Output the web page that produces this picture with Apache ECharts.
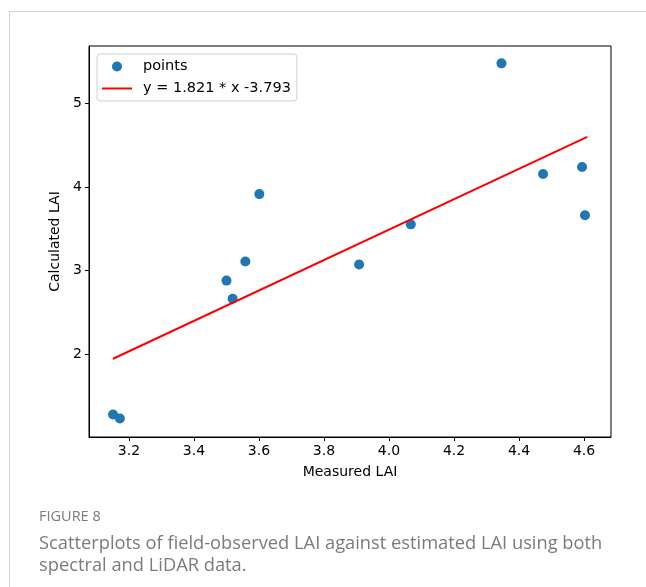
<!DOCTYPE html>
<html>
<head>
<meta charset="utf-8">
<script src="https://cdn.jsdelivr.net/npm/echarts@6/dist/echarts.min.js"></script>
<style>
  body { margin: 0; background: #fff; }
  #frame {
    position: absolute; left: 9px; top: 11px; width: 700px; height: 600px;
    border-left: 1px solid #d3d3d3; border-top: 1px solid #d3d3d3;
  }
  #chart { position: absolute; left: 0; top: 0; width: 646px; height: 587px; }
  .cap { position: absolute; left: 39px; color: #7b7b7b; font-family: "Open Sans", Lato, sans-serif; }
  #figno { top: 506px; font-size: 14.5px; }
  #captxt { top: 531px; font-size: 18.3px; line-height: 22px; width: 600px; }
</style>
</head>
<body>
<div id="frame"></div>
<div id="chart"></div>
<div class="cap" id="figno">FIGURE 8</div>
<div class="cap" id="captxt">Scatterplots of field-observed LAI against estimated LAI using both spectral and LiDAR data.</div>
<script>
// 实测 LAI（横轴）
var measured = [3.151, 3.172, 3.50, 3.519, 3.558, 3.601, 3.908, 4.067, 4.346, 4.474, 4.594, 4.603];
// 计算 LAI（纵轴）
var calculated = [1.277, 1.229, 2.88, 2.663, 3.108, 3.916, 3.072, 3.554, 5.482, 4.157, 4.241, 3.663];
// 拟合线两端
var fitX = [3.151, 4.61];
var fitY = [1.944, 4.602];
var fitName = 'y = 1.821 * x -3.793';

var xTicks = [3.2, 3.4, 3.6, 3.8, 4.0, 4.2, 4.4, 4.6];
var yTicks = [2, 3, 4, 5];

var myChart = echarts.init(document.getElementById('chart'));

var font = 'DejaVu Sans';
var option = {
  animation: false,
  textStyle: { fontFamily: font },
  grid: {
    left: 89, top: 46, right: 35, bottom: 150,
    show: true, borderColor: '#000', borderWidth: 1
  },
  legend: {
    orient: 'vertical',
    left: 97, top: 54,
    padding: [5, 6, 5, 5],
    itemGap: 7,
    itemWidth: 30, itemHeight: 10,
    borderColor: '#d0d0d0', borderWidth: 1, borderRadius: 3,
    textStyle: { fontSize: 14.5, color: '#000', fontFamily: font, padding: [0, 0, 0, 6] },
    data: [
      { name: 'points', icon: 'circle' },
      { name: fitName, icon: 'path://M0,4 L30,4 L30,6 L0,6 Z' }
    ]
  },
  xAxis: {
    type: 'value',
    min: 3.077, max: 4.683,
    name: 'Measured LAI',
    nameLocation: 'middle',
    nameGap: 28,
    nameTextStyle: { fontSize: 14, color: '#000' },
    splitLine: { show: false },
    axisLine: { lineStyle: { color: '#000' } },
    axisTick: { show: true, length: 4, lineStyle: { color: '#000' }, customValues: xTicks },
    axisLabel: {
      fontSize: 14, color: '#000', margin: 7, customValues: xTicks,
      formatter: function (v) { return v.toFixed(1); }
    }
  },
  yAxis: {
    type: 'value',
    min: 1.007, max: 5.69,
    name: 'Calculated LAI',
    nameLocation: 'middle',
    nameGap: 25,
    nameTextStyle: { fontSize: 14, color: '#000' },
    splitLine: { show: false },
    axisLine: { show: true, lineStyle: { color: '#000' } },
    axisTick: { show: true, length: 4, lineStyle: { color: '#000' }, customValues: yTicks },
    axisLabel: { fontSize: 14, color: '#000', margin: 7, customValues: yTicks }
  },
  series: [
    {
      name: 'points',
      type: 'scatter',
      symbolSize: 10,
      itemStyle: { color: '#1f77b4', opacity: 1 },
      data: measured.map(function (x, i) { return [x, calculated[i]]; })
    },
    {
      name: fitName,
      type: 'line',
      showSymbol: false,
      symbol: 'none',
      lineStyle: { color: '#ff0000', width: 2 },
      itemStyle: { color: '#ff0000' },
      data: fitX.map(function (x, i) { return [x, fitY[i]]; })
    }
  ]
};

myChart.setOption(option);
</script>
</body>
</html>
